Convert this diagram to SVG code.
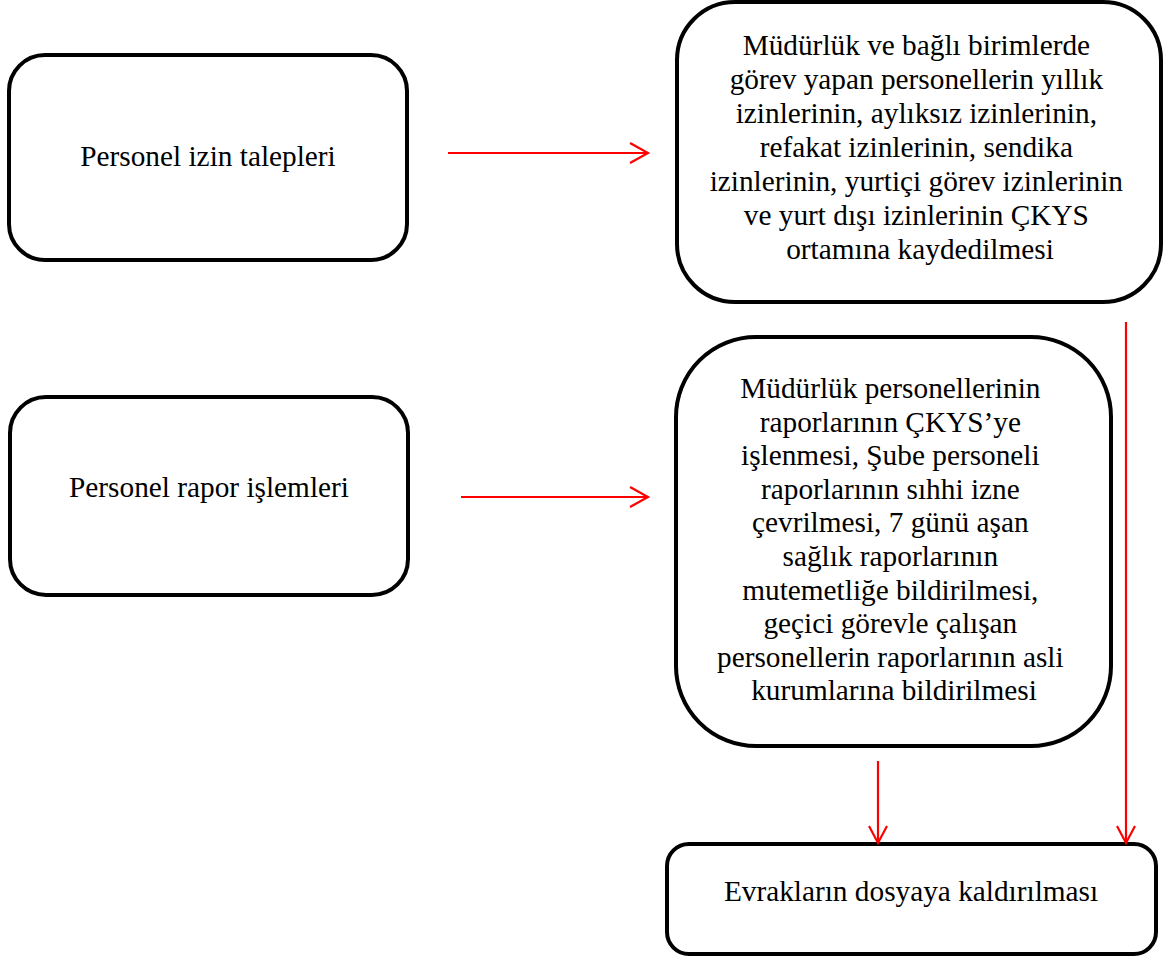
<svg xmlns="http://www.w3.org/2000/svg" width="1164" height="958" viewBox="0 0 1164 958">
  <style>
    .box { fill: #ffffff; stroke: #000000; stroke-width: 4; }
    .lbl { font-family: "Liberation Serif", "Times New Roman", serif; font-size: 29.3px; fill: #000000; text-anchor: middle; }
    .link { stroke: #ff0000; stroke-width: 2.2; fill: none; }
    .head { stroke: #ff0000; stroke-width: 2.2; fill: none; stroke-linecap: butt; }
  </style>
  <rect width="1164" height="958" fill="#ffffff"/>

  <g id="node-izin-talepleri">
    <rect class="box" x="9" y="55" width="398" height="205" rx="36" ry="36"/>
    <text class="lbl" x="208" y="166">Personel izin talepleri</text>
  </g>

  <g id="node-izin-kayit">
    <rect class="box" x="677" y="2" width="484" height="300" rx="58" ry="58"/>
    <text class="lbl">
      <tspan x="920" y="55">Müdürlük ve bağlı birimlerde</tspan>
      <tspan x="920" y="89">görev yapan personellerin yıllık</tspan>
      <tspan x="920" y="123">izinlerinin, aylıksız izinlerinin,</tspan>
      <tspan x="920" y="157">refakat izinlerinin, sendika</tspan>
      <tspan x="920" y="191">izinlerinin, yurtiçi görev izinlerinin</tspan>
      <tspan x="920" y="225">ve yurt dışı izinlerinin ÇKYS</tspan>
      <tspan x="920" y="259">ortamına kaydedilmesi</tspan>
    </text>
  </g>

  <g id="node-rapor-islemleri">
    <rect class="box" x="10" y="397" width="398" height="198" rx="36" ry="36"/>
    <text class="lbl" x="209" y="497">Personel rapor işlemleri</text>
  </g>

  <g id="node-rapor-kayit">
    <rect class="box" x="676" y="337" width="435" height="409" rx="80" ry="80"/>
    <text class="lbl">
      <tspan x="894" y="398">Müdürlük personellerinin</tspan>
      <tspan x="894" y="431.6">raporlarının ÇKYS’ye</tspan>
      <tspan x="894" y="465.2">işlenmesi, Şube personeli</tspan>
      <tspan x="894" y="498.8">raporlarının sıhhi izne</tspan>
      <tspan x="894" y="532.4">çevrilmesi, 7 günü aşan</tspan>
      <tspan x="894" y="566">sağlık raporlarının</tspan>
      <tspan x="894" y="599.6">mutemetliğe bildirilmesi,</tspan>
      <tspan x="894" y="633.2">geçici görevle çalışan</tspan>
      <tspan x="894" y="666.8">personellerin raporlarının asli</tspan>
      <tspan x="894" y="700.4">kurumlarına bildirilmesi</tspan>
    </text>
  </g>

  <g id="node-dosyalama">
    <rect class="box" x="667" y="844" width="489" height="110" rx="22" ry="22"/>
    <text class="lbl" x="911" y="901">Evrakların dosyaya kaldırılması</text>
  </g>

  <g id="connectors">
    <!-- izin talepleri -> kayıt -->
    <line class="link" x1="448" y1="153" x2="647" y2="153"/>
    <polyline class="head" points="630,143 648,153 630,163"/>
    <!-- rapor işlemleri -> rapor kayıt -->
    <line class="link" x1="461" y1="497" x2="647" y2="497"/>
    <polyline class="head" points="630,487 648,497 630,507"/>
    <!-- rapor kayıt -> dosyalama -->
    <line class="link" x1="878" y1="761" x2="878" y2="842"/>
    <polyline class="head" points="869,826 878,843 887,826"/>
    <!-- izin kayıt -> dosyalama -->
    <line class="link" x1="1126" y1="322" x2="1126" y2="842"/>
    <polyline class="head" points="1117,826 1126,843 1135,826"/>
  </g>
</svg>
